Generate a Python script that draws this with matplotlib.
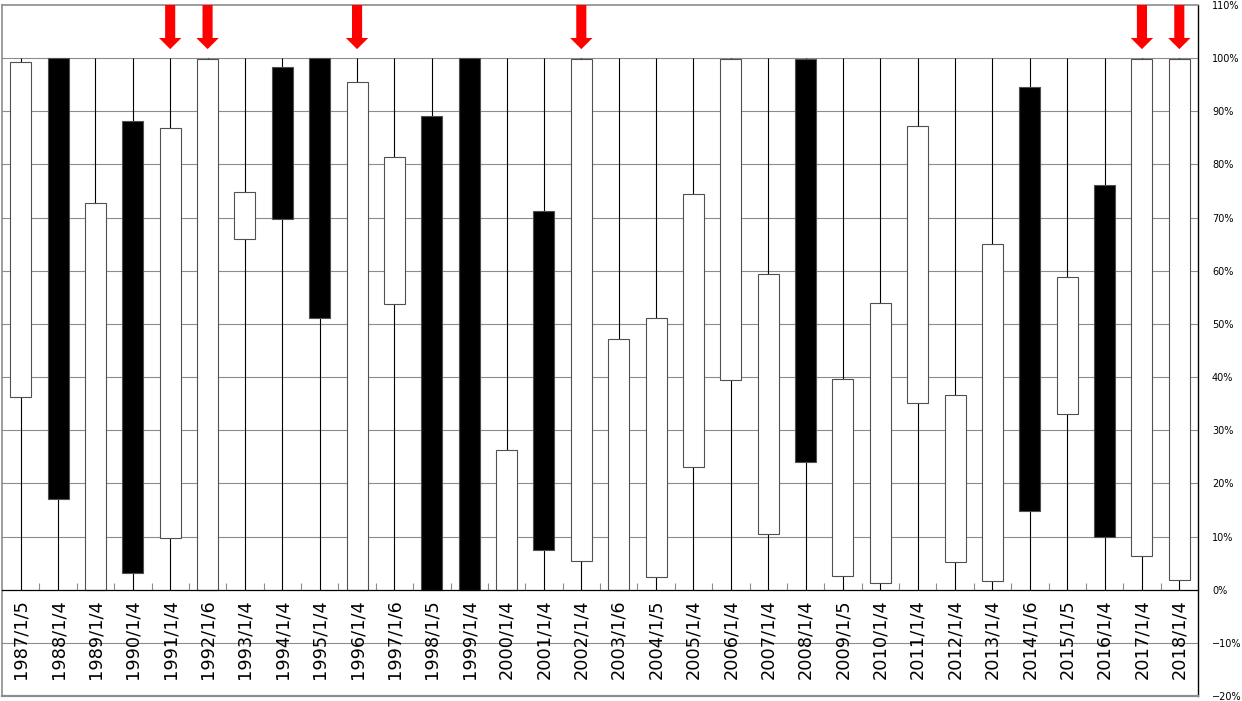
import matplotlib
matplotlib.use("Agg")
import matplotlib.pyplot as plt
from matplotlib.ticker import FixedLocator, FuncFormatter

# first trading day of each year
DATES = [
    "1987/1/5", "1988/1/4", "1989/1/4", "1990/1/4", "1991/1/4", "1992/1/6",
    "1993/1/4", "1994/1/4", "1995/1/4", "1996/1/4", "1997/1/6", "1998/1/5",
    "1999/1/4", "2000/1/4", "2001/1/4", "2002/1/4", "2003/1/6", "2004/1/5",
    "2005/1/4", "2006/1/4", "2007/1/4", "2008/1/4", "2009/1/5", "2010/1/4",
    "2011/1/4", "2012/1/4", "2013/1/4", "2014/1/6", "2015/1/5", "2016/1/4",
    "2017/1/4", "2018/1/4",
]
# position within the yearly range (%)
OPEN = [36.3, 100, 0, 88.1, 9.8, 0, 66.0, 98.3, 100, 0, 53.8, 89.1,
        100, 0, 71.3, 5.4, 0, 2.4, 23.1, 39.5, 10.5, 99.9, 2.6, 1.3,
        35.1, 5.3, 1.6, 94.5, 33.0, 76.1, 6.4, 1.9]
CLOSE = [99.3, 17.1, 72.8, 3.1, 86.8, 99.8, 74.8, 69.8, 51.1, 95.6, 81.4, 0,
         0, 26.2, 7.4, 99.9, 47.1, 51.2, 74.5, 99.9, 59.3, 24.1, 39.7, 54.0,
         87.3, 36.6, 65.0, 14.8, 58.8, 10.0, 99.9, 99.9]
HIGH = [100] * len(DATES)
LOW = [0] * len(DATES)

MARKED = ["1991/1/4", "1992/1/6", "1996/1/4", "2002/1/4", "2017/1/4", "2018/1/4"]

GRID = "#8c8c8c"

fig = plt.figure(figsize=(12.42, 7.01), dpi=100)
ax = fig.add_axes([2 / 1242, 5 / 701, 1196 / 1242, 691 / 701])

x = list(range(len(DATES)))

# horizontal grid
for v in range(-10, 101, 10):
    if v == 0:
        continue
    ax.axhline(v, color=GRID, lw=0.8, zorder=0)

# wicks
ax.vlines(x, LOW, HIGH, color="black", lw=0.8, zorder=1)

# bodies
bottoms = [min(o, c) for o, c in zip(OPEN, CLOSE)]
heights = [abs(c - o) for o, c in zip(OPEN, CLOSE)]
colors = ["white" if c >= o else "black" for o, c in zip(OPEN, CLOSE)]
ax.bar(x, heights, bottom=bottoms, width=0.56, color=colors,
       edgecolor="#505050", linewidth=0.8, zorder=2)

# red arrows
for d in MARKED:
    i = DATES.index(d)
    ax.arrow(i, 110, 0, -8.3, width=0.27, head_width=0.6, head_length=2.1,
             length_includes_head=True, color="#ff0000", lw=0,
             zorder=4, clip_on=False)

ax.set_xlim(-0.5, len(DATES) - 0.5)
ax.set_ylim(-20, 110)

# category axis at 0%
ax.spines["bottom"].set_position(("data", 0))
ax.spines["bottom"].set_color("black")
ax.spines["bottom"].set_linewidth(0.9)
ax.set_xticks(x)
ax.set_xticklabels(DATES, rotation=90, fontsize=12.8, family="DejaVu Sans")
ax.xaxis.set_minor_locator(FixedLocator([i + 0.5 for i in x[:-1]]))
ax.tick_params(axis="x", which="major", length=0, pad=7)
ax.tick_params(axis="x", which="minor", direction="in", length=5,
               color=GRID, width=0.8)

# frame
for s in ("top", "left"):
    ax.spines[s].set_color(GRID)
    ax.spines[s].set_linewidth(1.2)
ax.spines["right"].set_color("black")
ax.spines["right"].set_linewidth(1.0)
ax.axhline(-20, color=GRID, lw=1.6, clip_on=False, zorder=5)

# value axis on the right
ax.yaxis.tick_right()
ax.set_yticks(range(-20, 111, 10))
ax.yaxis.set_major_formatter(
    FuncFormatter(lambda v, _: f"{int(v)}%".replace("-", "\u2212")))
ax.tick_params(axis="y", length=0, pad=10, labelsize=7.0)

fig.savefig("out.png", dpi=100)
